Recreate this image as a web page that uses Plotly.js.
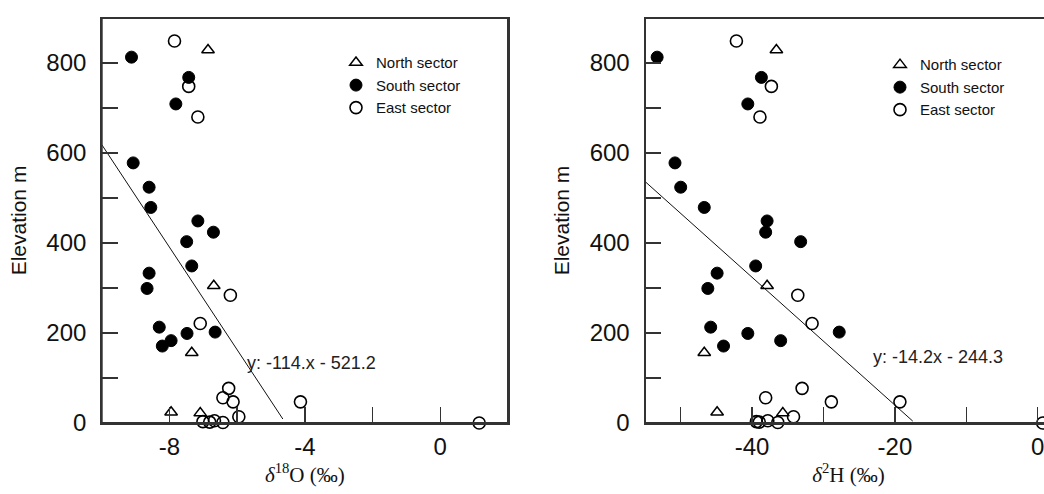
<!DOCTYPE html>
<html>
<head>
<meta charset="utf-8">
<script src="https://cdn.plot.ly/plotly-3.0.1.min.js"></script>
<style>
html, body { margin: 0; padding: 0; overflow: hidden; background: #fff; }
#chart { width: 1070px; height: 494px; }
</style>
</head>
<body>
<div id="chart"></div>
<script>
// ---- data ----
const sectorNames = ["North sector", "South sector", "East sector"];

const elevNorth = [829, 305, 156, 24, 22];
const d18ONorth = [-6.86, -6.69, -7.34, -7.95, -7.09];
const d2HNorth  = [-36.6, -37.9, -46.7, -44.9, -35.7];

const elevSouth = [813, 768, 709, 578, 524, 479, 449, 424, 403, 349, 333, 299, 213, 202, 199, 183, 171];
const d18OSouth = [-9.12, -7.43, -7.81, -9.07, -8.60, -8.55, -7.16, -6.70, -7.49, -7.34, -8.60, -8.66, -8.30, -6.65, -7.48, -7.95, -8.21];
const d2HSouth  = [-53.3, -38.7, -40.6, -50.8, -50.0, -46.7, -37.9, -38.1, -33.2, -39.5, -44.9, -46.2, -45.8, -27.8, -40.6, -36.0, -44.0];

const elevEast = [849, 748, 680, 284, 221, 77, 56, 47, 47, 14, 3, 2, 5, 1, 0];
const d18OEast = [-7.85, -7.43, -7.16, -6.20, -7.09, -6.25, -6.42, -6.12, -4.13, -5.95, -7.01, -6.81, -6.67, -6.42, 1.15];
const d2HEast  = [-42.2, -37.3, -38.9, -33.6, -31.6, -33.0, -38.1, -28.9, -19.3, -34.2, -39.4, -39.0, -37.8, -36.4, 0.7];

// tick labels
const elevTicks = [0, 200, 400, 600, 800];
const elevTickText = ["0", "200", "400", "600", "800"];
const d18OTicks = [-8, -4, 0];
const d18OTickText = ["-8", "-4", "0"];
const d2HTicks = [-40, -20, 0];
const d2HTickText = ["-40", "-20", "0"];

// regression lines (as printed on the chart)
const fitO = {slope: -114, intercept: -521.2, xs: [-10, -4.65], label: "y: -114.x - 521.2"};
const fitH = {slope: -14.2, intercept: -244.3, xs: [-55, -17.5], label: "y: -14.2x - 244.3"};

// ---- styles ----
const ink = "#333";
const sans = "Liberation Sans, Arial, sans-serif";
const serif = "Liberation Serif, Times New Roman, serif";
const mSize = 12;

const markerStyles = [
  {symbol: "triangle-up-open", size: 11, color: "#000", line: {width: 1.5, color: "#000"}},
  {symbol: "circle", size: mSize, color: "#000", line: {width: 1, color: "#000"}},
  {symbol: "circle-open", size: mSize, color: "#000", line: {width: 1.6, color: "#000"}}
];

function pts(xs, ys, name, style, xa, ya, leg) {
  return {
    type: "scatter", mode: "markers", x: xs, y: ys, name: name,
    xaxis: xa, yaxis: ya, legend: leg, cliponaxis: false,
    marker: style
  };
}
function fitLine(fit, xa, ya) {
  return {
    type: "scatter", mode: "lines", x: fit.xs,
    y: fit.xs.map(v => fit.slope * v + fit.intercept),
    xaxis: xa, yaxis: ya, showlegend: false, hoverinfo: "skip",
    line: {color: "#111", width: 1}
  };
}

const data = [
  fitLine(fitO, "x", "y"),
  pts(d18ONorth, elevNorth, sectorNames[0], markerStyles[0], "x", "y", "legend"),
  pts(d18OSouth, elevSouth, sectorNames[1], markerStyles[1], "x", "y", "legend"),
  pts(d18OEast, elevEast, sectorNames[2], markerStyles[2], "x", "y", "legend"),
  fitLine(fitH, "x2", "y2"),
  pts(d2HNorth, elevNorth, sectorNames[0], markerStyles[0], "x2", "y2", "legend2"),
  pts(d2HSouth, elevSouth, sectorNames[1], markerStyles[1], "x2", "y2", "legend2"),
  pts(d2HEast, elevEast, sectorNames[2], markerStyles[2], "x2", "y2", "legend2")
];

const W = 1070;
const dom1 = [101.7 / W, 508 / W];
const dom2 = [645 / W, 1052 / W];

const tickBase = {
  ticks: "inside", ticklen: 16, tickwidth: 1.5, tickcolor: ink,
  showline: true, linecolor: ink, linewidth: 1.5, mirror: true,
  showgrid: false, zeroline: false, fixedrange: true,
  tickfont: {family: sans, size: 24, color: "#111"}
};
function minor(d) {
  return {tickmode: "linear", tick0: 0, dtick: d, ticks: "inside", ticklen: 16, tickwidth: 1.5, tickcolor: ink, showgrid: false};
}
function yAxis(anchor) {
  return Object.assign({}, tickBase, {
    anchor: anchor, range: [0, 900], tickmode: "array",
    tickvals: elevTicks, ticktext: elevTickText,
    minor: minor(100), ticklabelstandoff: 9,
    title: {text: "Elevation m", font: {family: sans, size: 21, color: "#111"}, standoff: 14}
  });
}
function mirrorX(over, anchor) {
  return Object.assign({}, tickBase, {
    overlaying: over, side: "top", anchor: anchor, range: [-10, 2],
    tickmode: "linear", tick0: 0, dtick: 2, showticklabels: false, mirror: false
  });
}
function mirrorY(over, anchor) {
  return Object.assign({}, tickBase, {
    overlaying: over, side: "right", anchor: anchor, range: [0, 900],
    tickmode: "linear", tick0: 0, dtick: 200, showticklabels: false, mirror: false
  });
}
function frame(xa, ya) {
  return {type: "rect", xref: xa + " domain", yref: ya + " domain",
          x0: 0, x1: 1, y0: 0, y1: 1, layer: "above",
          line: {color: ink, width: 2}, fillcolor: "rgba(0,0,0,0)"};
}

const layout = {
  width: W, height: 494,
  margin: {l: 0, r: 0, t: 18, b: 71},
  paper_bgcolor: "#fff", plot_bgcolor: "#fff",
  showlegend: true,
  xaxis: Object.assign({}, tickBase, {
    domain: dom1, anchor: "y", range: [-10, 2], tickmode: "array",
    tickvals: d18OTicks, ticktext: d18OTickText,
    minor: minor(2), ticklabelstandoff: 2,
    title: {text: "<i>δ</i><sup>18</sup>O (‰)", font: {family: serif, size: 21, color: "#111"}, standoff: 8}
  }),
  yaxis: yAxis("x"),
  xaxis2: Object.assign({}, tickBase, {
    domain: dom2, anchor: "y2", range: [-55, 2], tickmode: "array",
    tickvals: d2HTicks, ticktext: d2HTickText,
    minor: minor(10), ticklabelstandoff: 2,
    title: {text: "<i>δ</i><sup>2</sup>H (‰)", font: {family: serif, size: 21, color: "#111"}, standoff: 8}
  }),
  yaxis2: yAxis("x2"),
  xaxis3: mirrorX("x", "y"),
  yaxis3: mirrorY("y", "x"),
  xaxis4: mirrorX("x2", "y2"),
  yaxis4: mirrorY("y2", "x2"),
  shapes: [frame("x", "y"), frame("x2", "y2")],
  legend: {
    x: 336 / W, xanchor: "left", y: 0.93, yanchor: "top",
    bgcolor: "rgba(0,0,0,0)", borderwidth: 0, tracegroupgap: 0, itemwidth: 30,
    font: {family: sans, size: 15, color: "#111"}
  },
  legend2: {
    x: 880 / W, xanchor: "left", y: 0.925, yanchor: "top",
    bgcolor: "rgba(0,0,0,0)", borderwidth: 0, tracegroupgap: 0, itemwidth: 30,
    font: {family: sans, size: 15, color: "#111"}
  },
  annotations: [
    {xref: "x", yref: "y", x: -5.78, y: 133, xanchor: "left", yanchor: "middle",
     text: fitO.label, showarrow: false, font: {family: sans, size: 18, color: "#222"}},
    {xref: "x2", yref: "y2", x: -23.4, y: 147, xanchor: "left", yanchor: "middle",
     text: fitH.label, showarrow: false, font: {family: sans, size: 18, color: "#222"}}
  ]
};

Plotly.newPlot("chart", data, layout, {staticPlot: true, displayModeBar: false});
</script>
</body>
</html>
